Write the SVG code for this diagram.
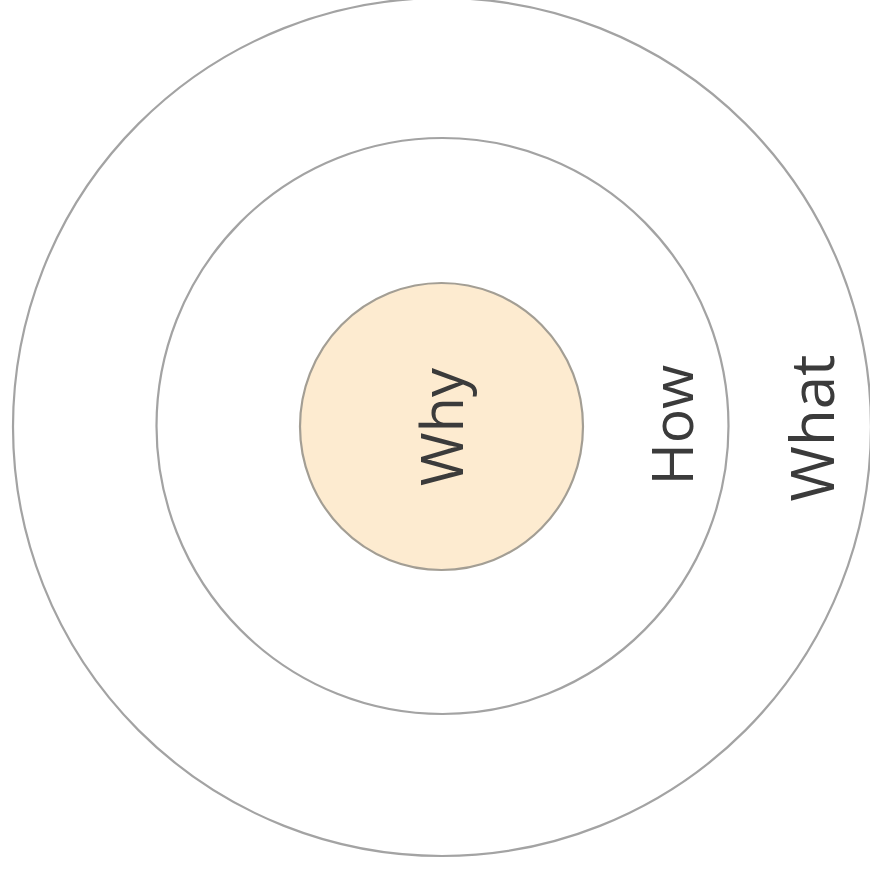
<svg xmlns="http://www.w3.org/2000/svg" width="870" height="873" viewBox="0 0 870 873">
<style>
.ring{fill:none;stroke:#a3a3a3;stroke-width:2.2}
.core{fill:#fdebd0;stroke:#a39e94;stroke-width:2.2}
.lbl{font-family:"Open Sans","DejaVu Sans",sans-serif;fill:#3b3b3b;text-anchor:middle;font-weight:500}
</style>
<rect width="870" height="873" fill="#ffffff"/>
<g id="what">
<ellipse class="ring" cx="442" cy="427" rx="429" ry="429"/>
<text class="lbl" font-size="60" transform="translate(834,428) rotate(-90)">What</text>
</g>
<g id="how">
<ellipse class="ring" cx="442.5" cy="426" rx="286" ry="288"/>
<text class="lbl" font-size="57" transform="translate(693,425) rotate(-90)">How</text>
</g>
<g id="why">
<ellipse class="core" cx="441.5" cy="426.5" rx="141.5" ry="143.5"/>
<text class="lbl" font-size="58" transform="translate(463,427) rotate(-90)">Why</text>
</g>
</svg>
